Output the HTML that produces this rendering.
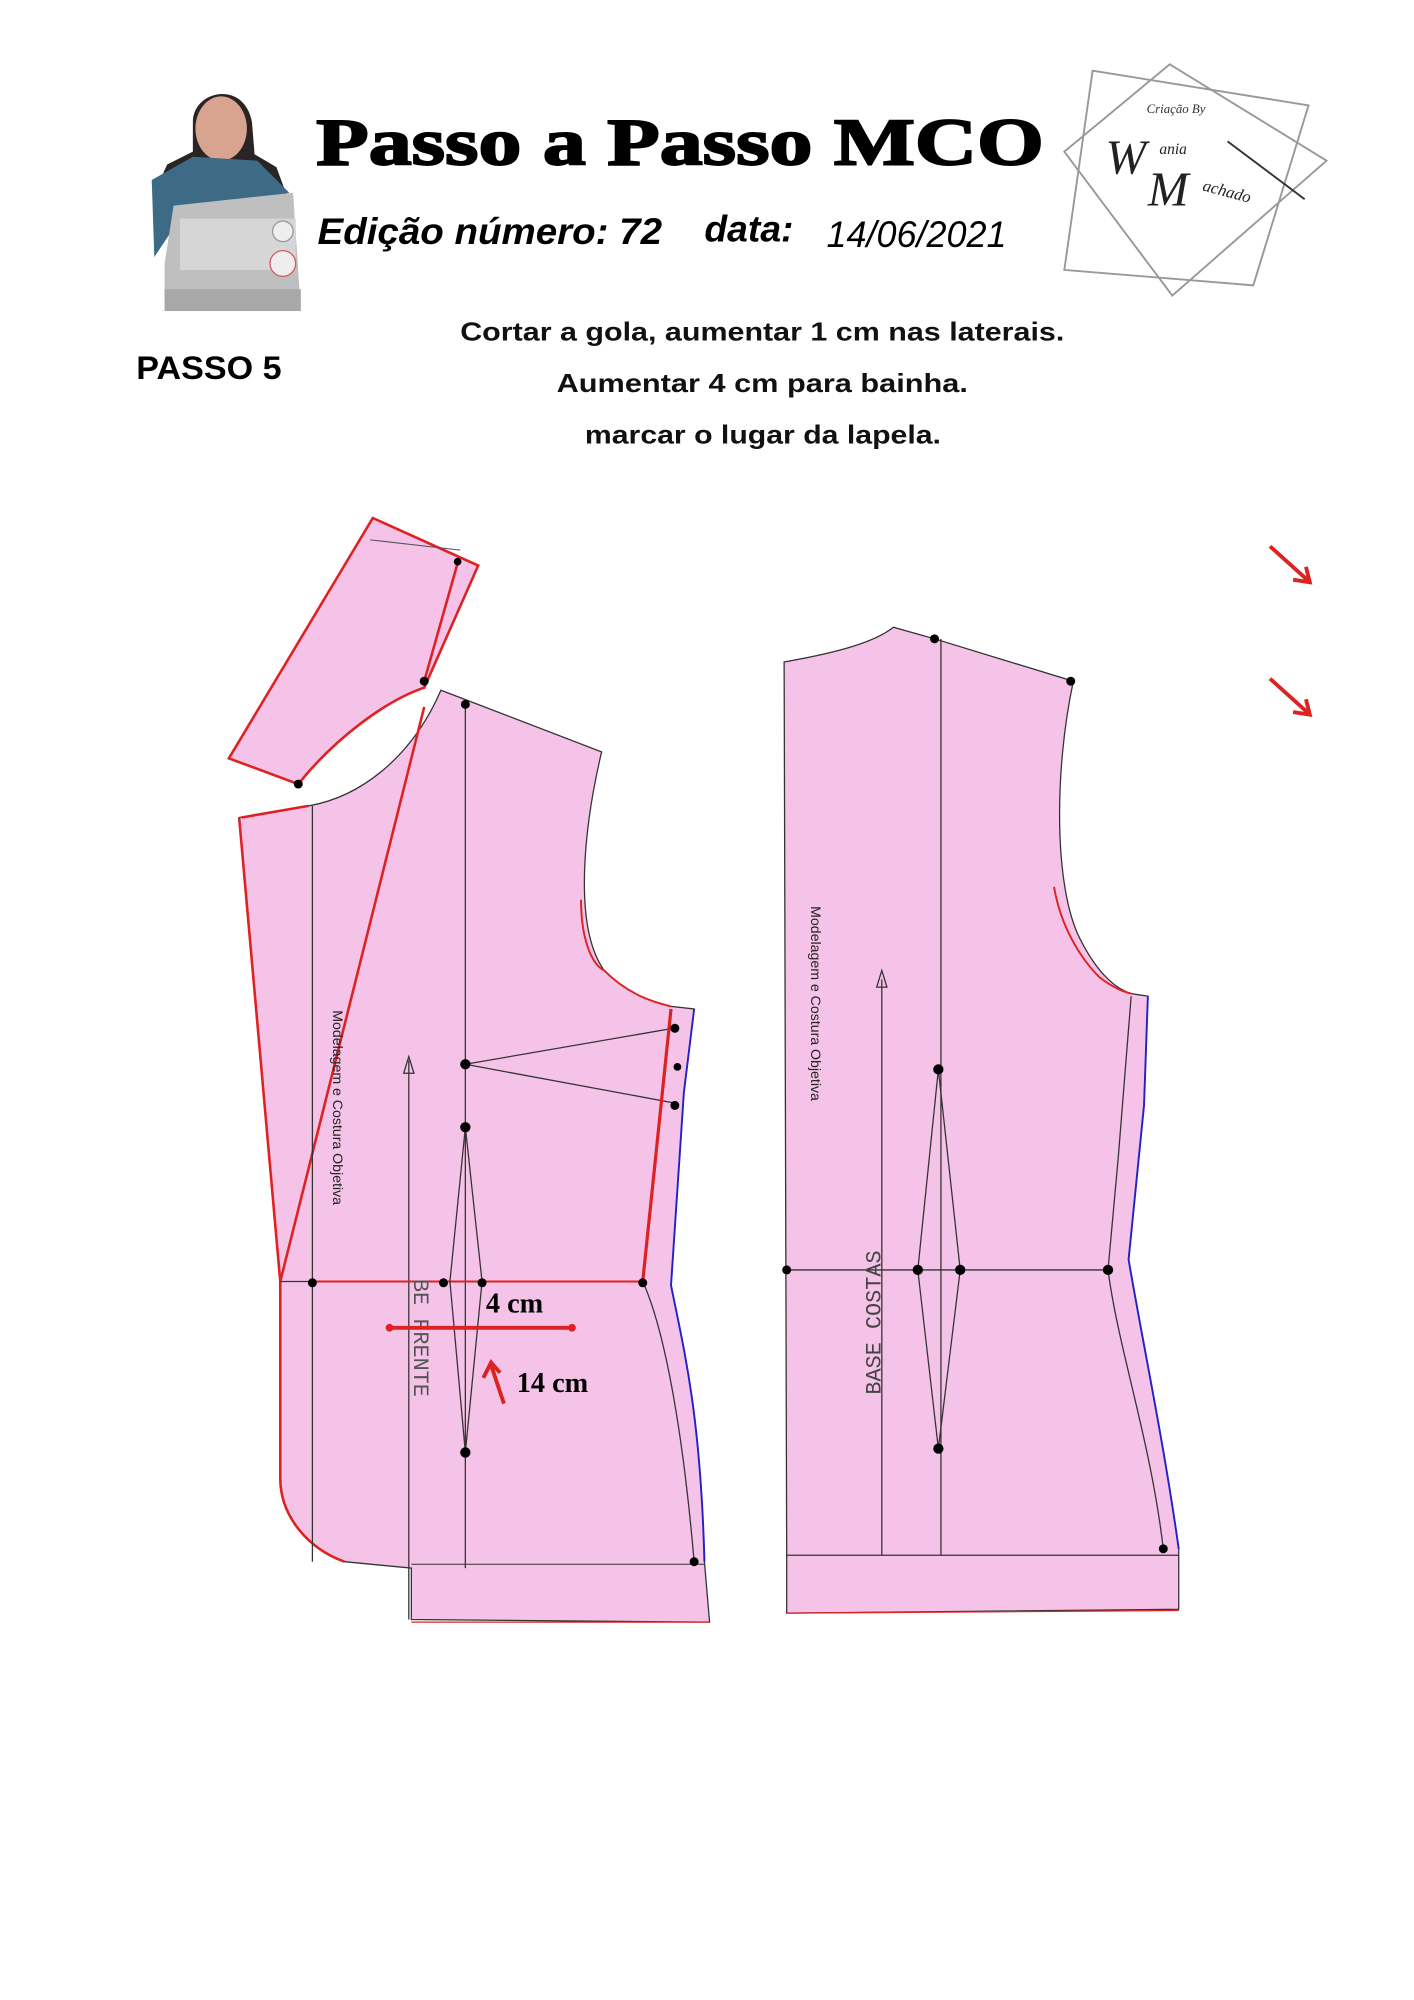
<!DOCTYPE html>
<html><head><meta charset="utf-8"><style>
html,body{margin:0;padding:0;background:#fff;}
svg{display:block;}
</style></head><body>
<svg width="1414" height="2000" viewBox="0 0 1100 1556" xmlns="http://www.w3.org/2000/svg">
<rect width="1100" height="1556" fill="#fff"/>
<!-- photo -->
<g>
<path d="M150,95 C150,70 190,62 196,95 L198,120 L215,130 L226,160 L205,170 L130,175 L120,150 L130,128 L150,118 Z" fill="#2a2424"/>
<ellipse cx="172" cy="100" rx="20" ry="25" fill="#d9a48f"/>
<path d="M118,140 L150,122 L200,125 L225,150 L190,160 L140,170 L120,200 Z" fill="#3d6b86"/>
<path d="M135,160 L228,150 L234,242 L128,242 L128,205 Z" fill="#bfbfbf"/>
<rect x="140" y="170" width="90" height="40" fill="#d6d6d6"/>
<circle cx="220" cy="180" r="8" fill="#eee" stroke="#999"/>
<circle cx="220" cy="205" r="10" fill="#eee" stroke="#d55"/>
<rect x="128" y="225" width="106" height="17" fill="#a8a8a8"/>
</g>
<!-- title -->
<text x="246" y="128" font-family="Liberation Serif,serif" font-weight="bold" font-size="52" fill="#000" textLength="566" lengthAdjust="spacingAndGlyphs" stroke="#000" stroke-width="1.5">Passo a Passo MCO</text>
<text x="247" y="190" font-family="Liberation Sans,sans-serif" font-style="italic" font-weight="bold" font-size="29" fill="#000" textLength="268" lengthAdjust="spacingAndGlyphs">Edição número:  72</text>
<text x="548" y="188" font-family="Liberation Sans,sans-serif" font-style="italic" font-weight="bold" font-size="29" fill="#000">data:</text>
<text x="643" y="192" font-family="Liberation Sans,sans-serif" font-style="italic" font-size="29" fill="#000" textLength="140" lengthAdjust="spacingAndGlyphs">14/06/2021</text>
<text x="106" y="295" font-family="Liberation Sans,sans-serif" font-weight="bold" font-size="25" fill="#000" textLength="113" lengthAdjust="spacingAndGlyphs">PASSO 5</text>
<g font-family="Liberation Sans,sans-serif" font-size="20" font-weight="bold" fill="#111">
<text x="358" y="265" textLength="470" lengthAdjust="spacingAndGlyphs">Cortar a gola, aumentar 1 cm nas laterais.</text>
<text x="433" y="305" textLength="320" lengthAdjust="spacingAndGlyphs">Aumentar 4 cm para bainha.</text>
<text x="455" y="345" textLength="277" lengthAdjust="spacingAndGlyphs">marcar o lugar da lapela.</text>
</g>
<!-- logo -->
<g fill="none" stroke="#999" stroke-width="1.5">
<polygon points="850,55 1018,82 975,222 828,210"/>
<polygon points="910,50 1032,125 912,230 828,118"/>
<line x1="955" y1="110" x2="1015" y2="155" stroke="#333"/>
</g>
<text x="892" y="88" font-family="Liberation Serif,serif" font-style="italic" font-size="10" fill="#333">Criação By</text>
<text x="860" y="135" font-family="Liberation Serif,serif" font-style="italic" font-size="38" fill="#222">W</text>
<text x="902" y="120" font-family="Liberation Serif,serif" font-style="italic" font-size="12" fill="#222">ania</text>
<text x="893" y="160" font-family="Liberation Serif,serif" font-style="italic" font-size="38" fill="#222">M</text>
<text x="935" y="148" font-family="Liberation Serif,serif" font-style="italic" font-size="13" fill="#222" transform="rotate(15 935 148)">achado</text>

<!-- collar -->
<path d="M290,403 L372,440 L330,535 C300,545 260,575 232,610 L178,590 Z" fill="#f5c3e8" stroke="#d22" stroke-width="2"/>
<line x1="288" y1="420" x2="358" y2="428" stroke="#555" stroke-width="0.8"/>
<line x1="356" y1="438" x2="330" y2="530" stroke="#d22" stroke-width="2"/>
<circle cx="356" cy="437" r="3" fill="#000"/><circle cx="330" cy="530" r="3.5" fill="#000"/><circle cx="232" cy="610" r="3.5" fill="#000"/>

<!-- front -->
<path d="M343,537 L468,585 C455,640 445,720 470,755 C490,775 510,780 522,783 L540,785 L532,850 L522,1000 C532,1050 545,1100 548,1215 L552,1262 L320,1260 L320,1220 L268,1215 C240,1205 218,1180 218,1150 L218,1000 L186,636 L240,627 C280,620 320,590 343,537 Z" fill="#f5c3e8" stroke="#333" stroke-width="1"/>
<path d="M186,636 L218,997 L218,1150 C218,1180 240,1205 268,1215" fill="none" stroke="#d22" stroke-width="2"/>
<path d="M188,636 L240,627" stroke="#d22" stroke-width="2"/>
<line x1="218" y1="997" x2="330" y2="550" stroke="#d22" stroke-width="2"/>
<path d="M452,700 C452,730 460,750 470,755 C490,775 510,780 522,783" fill="none" stroke="#d22" stroke-width="1.5"/>
<line x1="243" y1="627" x2="243" y2="1215" stroke="#333"/>
<line x1="362" y1="547" x2="362" y2="1220" stroke="#333"/>
<line x1="318" y1="825" x2="318" y2="1260" stroke="#333"/>
<path d="M314,835 L318,822 L322,835 Z" fill="none" stroke="#333"/>
<line x1="218" y1="997" x2="500" y2="997" stroke="#333"/>
<line x1="245" y1="997" x2="500" y2="997" stroke="#d22" stroke-width="1.5"/>
<line x1="362" y1="828" x2="524" y2="800" stroke="#333"/>
<line x1="362" y1="828" x2="524" y2="858" stroke="#333"/>
<path d="M362,877 L350,997 L362,1130 L375,997 Z" fill="none" stroke="#333"/>
<line x1="522" y1="785" x2="500" y2="997" stroke="#d22" stroke-width="2.5"/>
<path d="M500,997 C515,1030 530,1100 540,1215" fill="none" stroke="#333"/>
<path d="M540,785 L532,850 L522,1000 C532,1050 545,1100 548,1215" fill="none" stroke="#22c" stroke-width="1.5"/>
<line x1="320" y1="1262" x2="552" y2="1262" stroke="#d22" stroke-width="1"/>
<line x1="320" y1="1217" x2="548" y2="1217" stroke="#333" stroke-width="0.8"/>
<g fill="#000">
<circle cx="362" cy="548" r="3.5"/><circle cx="362" cy="828" r="4"/><circle cx="362" cy="877" r="4"/><circle cx="345" cy="998" r="3.5"/><circle cx="375" cy="998" r="3.5"/><circle cx="362" cy="1130" r="4"/><circle cx="500" cy="998" r="3.5"/><circle cx="540" cy="1215" r="3.5"/><circle cx="243" cy="998" r="3.5"/><circle cx="525" cy="800" r="3.5"/><circle cx="527" cy="830" r="3"/><circle cx="525" cy="860" r="3.5"/>
</g>
<text transform="translate(259,786) rotate(90)" font-family="Liberation Sans,sans-serif" font-size="11" fill="#222">Modelagem e Costura Objetiva</text>
<text transform="translate(322,995) rotate(90)" font-family="Liberation Mono,monospace" font-size="17" fill="#555">BE FRENTE</text>
<line x1="303" y1="1033" x2="445" y2="1033" stroke="#d22" stroke-width="3"/>
<circle cx="303" cy="1033" r="3" fill="#d22"/><circle cx="445" cy="1033" r="3" fill="#d22"/>
<text x="378" y="1021" font-family="Liberation Serif,serif" font-weight="bold" font-size="22" fill="#000">4 cm</text>
<text x="402" y="1083" font-family="Liberation Serif,serif" font-weight="bold" font-size="22" fill="#000">14 cm</text>
<path d="M392,1092 L382,1062 M376,1072 L382,1060 L389,1068" fill="none" stroke="#d22" stroke-width="3"/>

<!-- back -->
<path d="M610,515 C650,508 680,500 695,488 L727,497 L835,530 C820,600 820,690 840,730 C855,760 870,770 880,773 L893,775 L890,860 L878,980 C890,1050 905,1120 917,1205 L917,1252 L612,1255 L612,1210 Z" fill="#f5c3e8" stroke="#333" stroke-width="1"/>
<path d="M820,690 C825,720 840,745 855,760 C865,768 875,772 880,773" fill="none" stroke="#d22" stroke-width="1.5"/>
<path d="M893,775 L890,860 L878,980 C890,1050 905,1120 917,1205" fill="none" stroke="#22c" stroke-width="1.5"/>
<path d="M880,775 L870,900 L862,988 C870,1050 895,1120 905,1205" fill="none" stroke="#333"/>
<line x1="732" y1="497" x2="732" y2="1210" stroke="#333"/>
<line x1="686" y1="762" x2="686" y2="1210" stroke="#333"/>
<path d="M682,768 L686,755 L690,768 Z" fill="none" stroke="#333"/>
<line x1="610" y1="988" x2="862" y2="988" stroke="#333"/>
<line x1="612" y1="1210" x2="917" y2="1210" stroke="#333"/>
<line x1="612" y1="1255" x2="917" y2="1253" stroke="#d22" stroke-width="1"/>
<path d="M730,832 L714,988 L730,1127 L747,988 Z" fill="none" stroke="#333"/>
<g fill="#000">
<circle cx="727" cy="497" r="3.5"/><circle cx="833" cy="530" r="3.5"/><circle cx="730" cy="832" r="4"/><circle cx="612" cy="988" r="3.5"/><circle cx="714" cy="988" r="4"/><circle cx="747" cy="988" r="4"/><circle cx="862" cy="988" r="4"/><circle cx="730" cy="1127" r="4"/><circle cx="905" cy="1205" r="3.5"/>
</g>
<text transform="translate(631,705) rotate(90)" font-family="Liberation Sans,sans-serif" font-size="11" fill="#222">Modelagem e Costura Objetiva</text>
<text transform="translate(685,1085) rotate(-90)" font-family="Liberation Mono,monospace" font-size="17" fill="#444">BASE COSTAS</text>

<!-- right arrows -->
<path d="M988,425 L1018,452 M1006,451 L1019,453 L1016,441" fill="none" stroke="#d22" stroke-width="3"/>
<path d="M988,528 L1018,555 M1006,554 L1019,556 L1016,544" fill="none" stroke="#d22" stroke-width="3"/>
</svg>
</body></html>
